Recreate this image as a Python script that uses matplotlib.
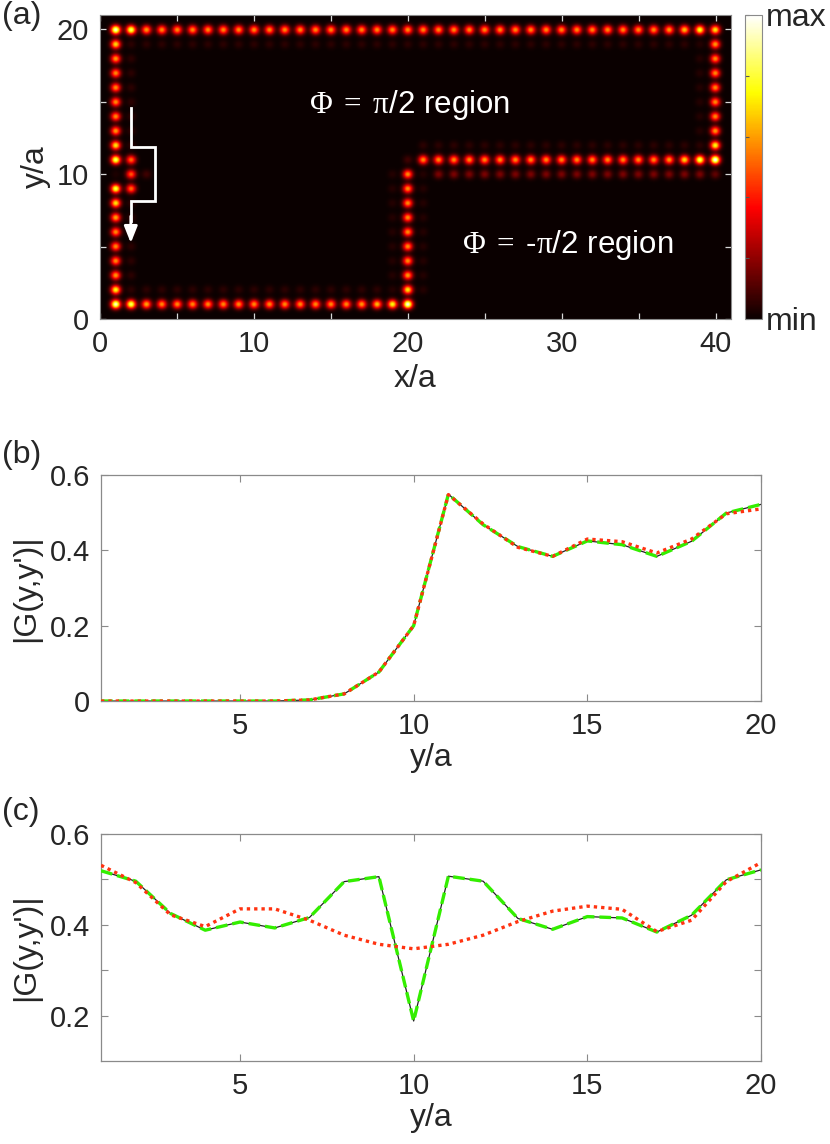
import numpy as np
import matplotlib.pyplot as plt
from matplotlib.ticker import FixedLocator

plt.rcParams['font.family'] = ['Liberation Sans', 'DejaVu Sans']
plt.rcParams['mathtext.fontset'] = 'custom'
plt.rcParams['mathtext.rm'] = 'Liberation Serif'
plt.rcParams['mathtext.it'] = 'Liberation Serif'

# ------------------------------------------------
# Panel (a): site intensities along the edge channel (1 = max)
# ------------------------------------------------
top_row = [0.95, 0.85, 0.60, 0.58, 0.58, 0.58, 0.58, 0.58, 0.58, 0.58,
           0.58, 0.58, 0.58, 0.58, 0.58, 0.58, 0.58, 0.58, 0.58, 0.58,
           0.58, 0.58, 0.58, 0.58, 0.58, 0.58, 0.58, 0.58, 0.58, 0.58,
           0.58, 0.58, 0.58, 0.58, 0.58, 0.58, 0.60, 0.66, 0.78, 0.92]   # y=20, x=1..40
bottom_row = [0.95, 0.85, 0.62, 0.58, 0.58, 0.58, 0.58, 0.58, 0.58, 0.58,
              0.58, 0.58, 0.58, 0.58, 0.58, 0.58, 0.60, 0.65, 0.76, 0.98]  # y=1, x=1..20
left_col = [0.95, 0.76, 0.60, 0.58, 0.58, 0.58, 0.62, 0.72, 0.82, 0.03,
            0.85, 0.72, 0.60, 0.58, 0.58, 0.58, 0.58, 0.60, 0.70, 0.95]    # x=1, y=1..20
detour_col = [0.53, 0.50, 0.53]                                            # x=2, y=9..11
mid_col = [0.98, 0.72, 0.60, 0.58, 0.58, 0.58, 0.58, 0.58, 0.58, 0.58]     # x=20, y=1..10
mid_row = [0.58, 0.58, 0.58, 0.58, 0.58, 0.58, 0.58, 0.58, 0.58, 0.58,
           0.58, 0.58, 0.58, 0.58, 0.58, 0.58, 0.60, 0.70, 0.85, 1.00]     # y=11, x=21..40
right_col = [0.76, 0.60, 0.58, 0.58, 0.58, 0.58, 0.58, 0.60, 0.72]         # x=40, y=12..20
# faint second rows beside the channel
below_mid_row = [0.17, 0.17, 0.17, 0.17, 0.17, 0.17, 0.17, 0.17, 0.17, 0.17,
                 0.17, 0.17, 0.17, 0.17, 0.17, 0.17, 0.17, 0.17, 0.17, 0.13]  # y=10, x=21..40
glow_top = [0.05] * 38       # y=19, x=2..39
glow_bottom = [0.05] * 18    # y=2, x=2..19
glow_left = [0.05] * 7 + [0.0] * 3 + [0.05] * 8   # x=2, y=2..19
glow_mid = [0.04] * 9        # x=19 and x=21, y=2..10
glow_right = [0.04] * 8      # x=39, y=12..19
glow_above_mid = [0.05] * 19 # y=12, x=21..39
defect_glow = [0.08, 0.08]   # x=3 at y=10, x=20 at y=11

arrow_path_x = [2.0, 2.0, 3.6, 3.6, 2.0, 2.0]
arrow_path_y = [14.6, 11.9, 11.9, 8.15, 8.15, 6.8]

# ------------------------------------------------
# Panels (b), (c): |G(y,y')| along the left edge
# ------------------------------------------------
y_sites = np.arange(1, 21)
b_black = [0, 0, 0, 0, 0, 0, 0.003, 0.019, 0.077, 0.200,
           0.549, 0.468, 0.410, 0.384, 0.425, 0.415, 0.384, 0.424, 0.499, 0.522]
b_green = [0, 0, 0, 0, 0, 0, 0.003, 0.019, 0.077, 0.200,
           0.549, 0.468, 0.410, 0.384, 0.425, 0.415, 0.384, 0.424, 0.499, 0.522]
b_red = [0, 0, 0, 0, 0, 0, 0.003, 0.019, 0.077, 0.200,
         0.548, 0.470, 0.408, 0.384, 0.430, 0.423, 0.393, 0.430, 0.497, 0.510]

c_black = [0.519, 0.496, 0.425, 0.388, 0.406, 0.393, 0.416, 0.495, 0.506, 0.188,
           0.507, 0.496, 0.414, 0.390, 0.418, 0.415, 0.384, 0.421, 0.499, 0.521]
c_green = [0.519, 0.496, 0.425, 0.388, 0.406, 0.393, 0.416, 0.495, 0.506, 0.188,
           0.507, 0.496, 0.414, 0.390, 0.418, 0.415, 0.384, 0.421, 0.499, 0.521]
c_red = [0.531, 0.493, 0.422, 0.396, 0.435, 0.435, 0.410, 0.377, 0.357, 0.347,
         0.357, 0.377, 0.407, 0.430, 0.441, 0.434, 0.385, 0.410, 0.495, 0.537]

TXT = '#262626'
SPINE = '#8a8a8a'


def build_lattice():
    amp = np.zeros((20, 40))  # amp[y-1, x-1]
    amp[19, 0:40] = top_row
    amp[0, 0:20] = bottom_row
    amp[0:20, 0] = left_col
    amp[8:11, 1] = detour_col
    amp[0:10, 19] = mid_col
    amp[10, 20:40] = mid_row
    amp[11:20, 39] = right_col
    amp[9, 20:40] = below_mid_row
    amp[18, 1:39] = np.maximum(amp[18, 1:39], glow_top)
    amp[1, 1:19] = np.maximum(amp[1, 1:19], glow_bottom)
    amp[1:19, 1] = np.maximum(amp[1:19, 1], glow_left)
    amp[1:10, 18] = glow_mid
    amp[1:10, 20] = glow_mid
    amp[11:19, 38] = glow_right
    amp[11, 20:39] = glow_above_mid
    amp[9, 2] = defect_glow[0]
    amp[10, 19] = defect_glow[1]
    return amp


def render_field(amp, sigma=0.22, res=0.05):
    xs = np.arange(0, 41 + res, res)
    ys = np.arange(0, 21 + res, res)
    gx = np.exp(-(xs[None, :] - np.arange(1, 41)[:, None]) ** 2 / (2 * sigma ** 2))
    gy = np.exp(-(ys[None, :] - np.arange(1, 21)[:, None]) ** 2 / (2 * sigma ** 2))
    return gy.T @ amp @ gx


def style_line_axes(ax):
    for s in ax.spines.values():
        s.set_color(SPINE)
        s.set_linewidth(0.9)
    ax.tick_params(which='both', direction='in', top=True, right=True,
                   length=5, width=0.8, color=SPINE, labelsize=21,
                   labelcolor=TXT, pad=8)


fig = plt.figure(figsize=(8.3, 11.44), dpi=100)

# ---------------- panel (a) ----------------
ax_a = fig.add_axes([0.1205, 0.7212, 0.7602, 0.2657])
field = render_field(build_lattice())
im = ax_a.imshow(field, origin='lower', extent=[0, 41, 0, 21], aspect='auto',
                 cmap='hot', vmin=0, vmax=1, interpolation='bilinear')
ax_a.set_xlim(0, 41)
ax_a.set_ylim(0, 21)
ax_a.xaxis.set_major_locator(FixedLocator([0, 10, 20, 30, 40]))
ax_a.xaxis.set_minor_locator(FixedLocator([5, 15, 25, 35]))
ax_a.yaxis.set_major_locator(FixedLocator([0, 10, 20]))
ax_a.yaxis.set_minor_locator(FixedLocator([5, 15]))
for s in ax_a.spines.values():
    s.set_color(SPINE)
ax_a.tick_params(which='both', direction='in', top=True, right=True,
                 length=4, width=0.9, color='#d8d8d8', labelsize=21,
                 labelcolor=TXT, pad=8)
ax_a.set_xlabel('x/a', fontsize=23, color=TXT, labelpad=4)
ax_a.set_ylabel('y/a', fontsize=23, color=TXT, labelpad=4)

ax_a.plot(arrow_path_x, arrow_path_y, color='white', lw=2.0, solid_joinstyle='miter')
ax_a.annotate('', xy=(arrow_path_x[-1], 5.25), xytext=(arrow_path_x[-1], arrow_path_y[-1] + 0.3),
              arrowprops=dict(arrowstyle='-|>,head_length=1.0,head_width=0.4',
                              color='white', lw=2.0, shrinkA=0, shrinkB=0))
ax_a.text(20.1, 14.8, r'$\Phi\;=\;\pi$/2 region', color='white', fontsize=22.5,
          ha='center', va='center')
ax_a.text(30.4, 5.1, r'$\Phi\;=\;$-$\pi$/2 region', color='white', fontsize=22.5,
          ha='center', va='center')

cax = fig.add_axes([0.8976, 0.7212, 0.0205, 0.2657])
cb = fig.colorbar(im, cax=cax)
cb.outline.set_edgecolor(SPINE)
cb.set_ticks([0, 0.2, 0.4, 0.6, 0.8, 1.0])
cb.set_ticklabels(['min', '', '', '', '', 'max'])
cax.tick_params(direction='in', left=True, right=False, labelright=True,
                length=3, width=0.8, color='#555555', labelsize=23,
                labelcolor=TXT, pad=3)

# ---------------- panel (b) ----------------
ax_b = fig.add_axes([0.1217, 0.3872, 0.7952, 0.1976])
ax_b.plot(y_sites, b_black, color='#222222', lw=0.9, zorder=2)
ax_b.plot(y_sites, b_green, color='#33ee00', lw=2.4, dashes=(3.5, 1.5), zorder=3)
ax_b.plot(y_sites, b_red, color='#ff3311', lw=2.4, dashes=(1, 1.2), zorder=4)
ax_b.set_xlim(1, 20)
ax_b.set_ylim(0, 0.6)
ax_b.set_xticks([5, 10, 15, 20])
ax_b.set_yticks([0, 0.2, 0.4, 0.6])
ax_b.set_yticklabels(['0', '0.2', '0.4', '0.6'])
style_line_axes(ax_b)
ax_b.set_xlabel('y/a', fontsize=23, color=TXT, labelpad=2)
ax_b.set_ylabel("|G(y,y')|", fontsize=23, color=TXT, labelpad=6)

# ---------------- panel (c) ----------------
ax_c = fig.add_axes([0.1217, 0.0726, 0.7952, 0.1984])
ax_c.plot(y_sites, c_black, color='#222222', lw=0.9, zorder=2)
ax_c.plot(y_sites, c_green, color='#33ee00', lw=2.4, dashes=(3.5, 1.5), zorder=3)
ax_c.plot(y_sites, c_red, color='#ff3311', lw=2.4, dashes=(1, 1.2), zorder=4)
ax_c.set_xlim(1, 20)
ax_c.set_ylim(0.1, 0.6)
ax_c.set_xticks([5, 10, 15, 20])
ax_c.yaxis.set_major_locator(FixedLocator([0.2, 0.4, 0.6]))
ax_c.yaxis.set_minor_locator(FixedLocator([0.3, 0.5]))
ax_c.set_yticklabels(['0.2', '0.4', '0.6'])
style_line_axes(ax_c)
ax_c.set_xlabel('y/a', fontsize=23, color=TXT, labelpad=2)
ax_c.set_ylabel("|G(y,y')|", fontsize=23, color=TXT, labelpad=6)

# panel letters
fig.text(0.002, 0.999, '(a)', fontsize=23, color=TXT, va='top', ha='left')
fig.text(0.002, 0.6154, '(b)', fontsize=23, color=TXT, va='top', ha='left')
fig.text(0.002, 0.3033, '(c)', fontsize=23, color=TXT, va='top', ha='left')

fig.savefig('out.png', dpi=100)
